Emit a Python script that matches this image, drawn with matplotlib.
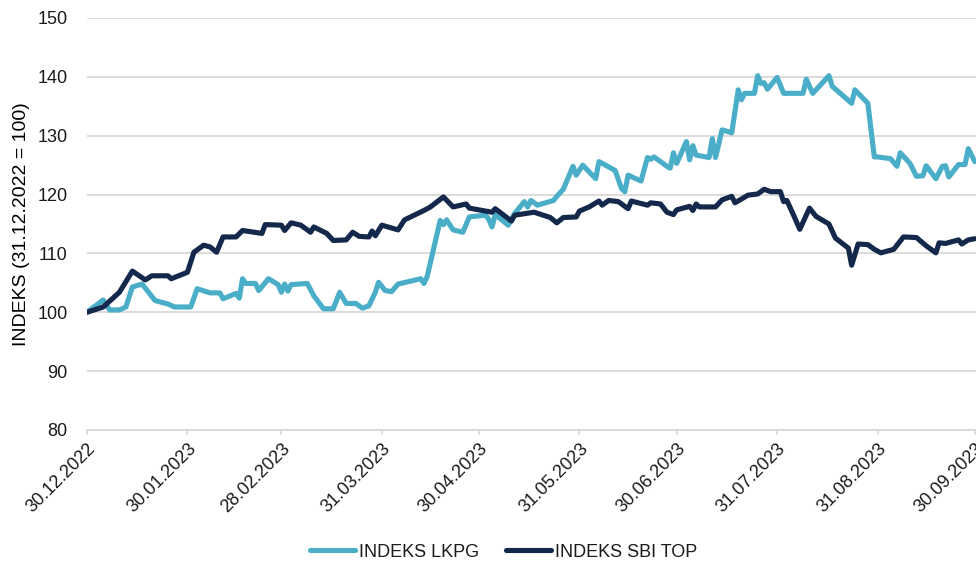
import matplotlib
matplotlib.use("Agg")
import matplotlib.pyplot as plt
import pandas as pd

start = pd.Timestamp("2022-12-30")

# days after 30.12.2022, index values
lkpg_days = [0, 5, 7, 10, 12, 14, 17, 21, 25, 27, 32, 34, 38, 41, 42, 46, 47, 48, 49, 52, 53, 56,
             59, 60, 61, 62, 63, 68, 70, 73, 76, 78, 80, 83, 85, 87, 89, 90, 92, 94, 96, 103, 104,
             105, 109, 110, 111, 113, 116, 118, 123, 124, 125, 126, 130, 132, 135, 136, 137, 139,
             144, 145, 147, 150, 151, 153, 157, 158, 163, 165, 166, 167, 171, 173, 174, 175, 179,
             180, 181, 182, 185, 186, 187, 188, 192, 193, 194, 196, 199, 201, 202, 203, 206, 207,
             208, 209, 210, 213, 215, 221, 222, 224, 229, 230, 236, 237, 241, 243, 244, 248, 250,
             251, 254, 256, 258, 259, 262, 264, 265, 266, 269, 270, 271, 272, 274]
lkpg_vals = [100, 102.1, 100.4, 100.4, 100.9, 104.3, 104.8, 102.0, 101.4, 100.9, 100.9, 104.0,
             103.3, 103.3, 102.3, 103.2, 102.4, 105.7, 104.9, 104.9, 103.7, 105.7, 104.7, 103.4,
             104.8, 103.6, 104.7, 104.9, 102.8, 100.6, 100.6, 103.4, 101.5, 101.5, 100.7, 101.1,
             103.4, 105.1, 103.7, 103.5, 104.8, 105.7, 104.9, 106.1, 115.6, 114.9, 115.7, 114.0,
             113.6, 116.2, 116.5, 115.8, 114.5, 116.6, 114.8, 116.8, 118.8, 117.9, 119.0, 118.2,
             119.0, 119.7, 120.9, 124.8, 123.3, 125.0, 122.7, 125.6, 124.1, 121.0, 120.5, 123.3,
             122.3, 126.3, 126.0, 126.4, 124.8, 124.5, 127.1, 125.3, 129.0, 125.9, 128.3, 126.7,
             126.3, 129.5, 126.3, 131.0, 130.5, 137.8, 136.1, 137.2, 137.2, 140.2, 138.9, 139.0,
             137.9, 139.9, 137.2, 137.2, 139.6, 137.2, 140.2, 138.4, 135.5, 137.8, 135.5, 126.4,
             126.4, 126.1, 124.8, 127.1, 125.3, 123.1, 123.2, 124.9, 122.7, 124.8, 124.9, 123.0,
             125.1, 125.1, 125.1, 127.8, 125.6]

sbi_days = [0, 5, 10, 14, 18, 20, 25, 26, 31, 33, 36, 38, 40, 42, 46, 48, 54, 55, 60, 61, 63, 66,
            69, 70, 74, 76, 80, 82, 84, 87, 88, 89, 91, 96, 98, 104, 106, 110, 113, 117, 118, 125,
            126, 131, 132, 138, 143, 145, 147, 151, 152, 155, 158, 159, 161, 164, 167, 168, 173,
            174, 177, 179, 181, 182, 186, 187, 188, 189, 194, 196, 199, 200, 204, 207, 209, 211,
            214, 215, 216, 218, 220, 223, 225, 229, 231, 235, 236, 238, 241, 243, 245, 249, 252,
            256, 259, 262, 263, 265, 269, 270, 272, 274]
sbi_vals = [100, 100.9, 103.4, 107.0, 105.5, 106.2, 106.2, 105.7, 106.8, 110.2, 111.4, 111.1,
            110.2, 112.8, 112.8, 113.9, 113.4, 114.9, 114.8, 113.9, 115.2, 114.8, 113.6, 114.5,
            113.4, 112.2, 112.3, 113.6, 112.9, 112.8, 113.8, 113.0, 114.8, 114.0, 115.7, 117.3,
            117.9, 119.6, 117.9, 118.4, 117.7, 117.0, 117.6, 115.5, 116.5, 117.0, 116.1, 115.2,
            116.1, 116.2, 117.2, 117.9, 118.9, 118.2, 119.0, 118.8, 117.6, 118.9, 118.2, 118.6,
            118.4, 117.0, 116.6, 117.4, 118.0, 117.3, 118.4, 117.9, 117.9, 119.1, 119.7, 118.6,
            119.9, 120.1, 120.9, 120.5, 120.5, 118.8, 119.0, 116.6, 114.1, 117.7, 116.3, 115.0,
            112.6, 110.9, 108.0, 111.6, 111.5, 110.7, 110.1, 110.7, 112.8, 112.7, 111.3, 110.1,
            111.8, 111.7, 112.3, 111.6, 112.3, 112.5]

tick_dates = ["2022-12-30", "2023-01-30", "2023-02-28", "2023-03-31", "2023-04-30",
              "2023-05-31", "2023-06-30", "2023-07-31", "2023-08-31", "2023-09-30"]
y_ticks = [80, 90, 100, 110, 120, 130, 140, 150]

plt.rcParams["font.family"] = ["Liberation Sans", "DejaVu Sans"]
plt.rcParams["font.size"] = 13
plt.rcParams["text.color"] = "#1a1a1a"

lkpg_x = start + pd.to_timedelta(lkpg_days, unit="D")
sbi_x = start + pd.to_timedelta(sbi_days, unit="D")
ticks = pd.to_datetime(tick_dates)

fig = plt.figure(figsize=(9.76, 5.67), dpi=100)
ax = fig.add_axes([87 / 976, 137 / 567, 891 / 976, 412 / 567])

ax.plot(lkpg_x, lkpg_vals, color="#4AAEC8", lw=3.7, solid_joinstyle="round",
        solid_capstyle="round", label="INDEKS LKPG", zorder=3)
ax.plot(sbi_x, sbi_vals, color="#13284A", lw=3.7, solid_joinstyle="round",
        solid_capstyle="round", label="INDEKS SBI TOP", zorder=4)

ax.set_ylim(80, 150)
ax.set_yticks(y_ticks)
ax.set_xlim(start, pd.Timestamp("2023-10-01"))
ax.set_xticks(ticks)
ax.set_xticklabels([d.strftime("%d.%m.%Y") for d in ticks], rotation=45, ha="right",
                   va="top", rotation_mode="anchor")
ax.grid(axis="y", color="#D9D9D9", lw=1.3)
ax.set_axisbelow(True)
for s in ["top", "right", "left"]:
    ax.spines[s].set_visible(False)
ax.spines["bottom"].set_color("#D9D9D9")
ax.spines["bottom"].set_linewidth(1.3)
ax.tick_params(axis="y", length=0, pad=14, labelcolor="#1a1a1a")
ax.tick_params(axis="x", length=3.5, width=1.2, color="#D9D9D9", pad=4, labelcolor="#1a1a1a")
ax.set_ylabel("INDEKS (31.12.2022 = 100)", fontsize=14, labelpad=5)

ax.legend(loc="center", bbox_to_anchor=(0.516, 0.026), bbox_transform=fig.transFigure,
          ncol=2, frameon=False, handlelength=2.5, columnspacing=1.5, handletextpad=0.2)

fig.savefig("out.png", dpi=100)
